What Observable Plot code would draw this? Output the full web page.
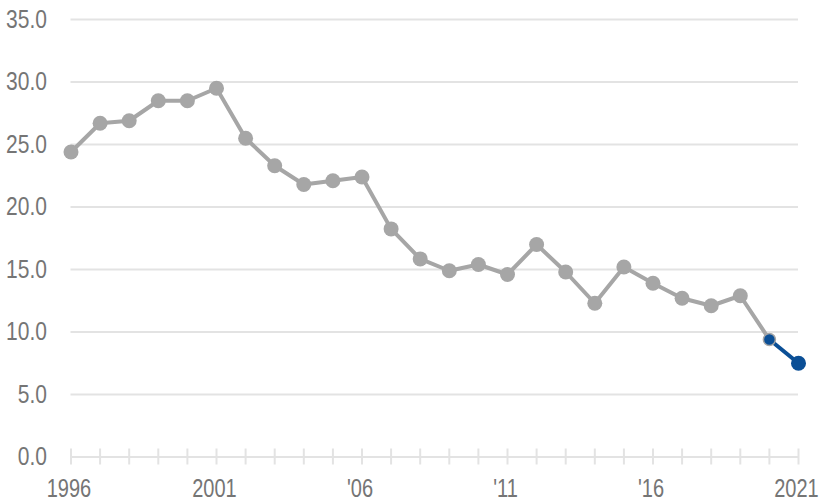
<!DOCTYPE html>
<html>
<head>
<meta charset="utf-8">
<script src="https://cdn.jsdelivr.net/npm/d3@7"></script>
<script src="https://cdn.jsdelivr.net/npm/@observablehq/plot@0.6"></script>
<style>
  html, body { margin: 0; padding: 0; background: #fff; }
  #chart svg { display: block; }
</style>
</head>
<body>
<div id="chart"></div>
<script>
const years = [1996,1997,1998,1999,2000,2001,2002,2003,2004,2005,2006,2007,2008,2009,2010,2011,2012,2013,2014,2015,2016,2017,2018,2019,2020,2021];
const values = [24.4,26.7,26.9,28.5,28.5,29.5,25.5,23.3,21.8,22.1,22.4,18.25,15.85,14.9,15.4,14.6,17.0,14.8,12.3,15.2,13.9,12.7,12.1,12.9,9.4,7.5];
const highlightStart = 2020;
const yTicks = [0,5,10,15,20,25,30,35];
const xLabelYears = [1996,2001,2006,2011,2016,2021];
const xLabelText = ["1996","2001","'06","'11","'16","2021"];

const data = years.map((y, i) => ({year: y, value: values[i]}));
const grayData = data.filter(d => d.year <= highlightStart);
const blueData = data.filter(d => d.year >= highlightStart);

const GRAY = "#a6a6a6";
const BLUE = "#0b4f96";
const GRID = "#e3e3e3";
const TEXT = "#757575";
const FONT = "'Liberation Sans', Arial, sans-serif";

const chart = Plot.plot({
  width: 819,
  height: 502,
  marginLeft: 70.5,
  marginRight: 21,
  marginTop: 19,
  marginBottom: 45.5,
  style: {fontFamily: FONT, fontSize: "25px", background: "#fff", overflow: "visible"},
  x: {domain: [1996, 2021]},
  y: {domain: [0, 35]},
  marks: [
    Plot.gridY(yTicks, {stroke: GRID, strokeOpacity: 1, strokeWidth: 2}),
    Plot.axisX(years, {tickSize: 16, dy: -8, stroke: GRID, strokeOpacity: 1, strokeWidth: 2, fill: "none", label: null}),
    Plot.axisX(xLabelYears, {tickSize: 0, tickPadding: 22, dx: -2, fill: TEXT, fillOpacity: 1, fontSize: 25, tickFormat: d => xLabelText[xLabelYears.indexOf(d)], label: null}),
    Plot.axisY(yTicks, {tickSize: 0, tickPadding: 24, fill: TEXT, fillOpacity: 1, fontSize: 25, tickFormat: d3.format(".1f"), label: null}),
    Plot.line(grayData, {x: "year", y: "value", stroke: GRAY, strokeWidth: 4}),
    Plot.dot(grayData.filter(d => d.year < highlightStart), {x: "year", y: "value", r: 7.5, fill: GRAY}),
    Plot.line(blueData, {x: "year", y: "value", stroke: BLUE, strokeWidth: 4}),
    Plot.dot(blueData.filter(d => d.year === highlightStart), {x: "year", y: "value", r: 6, fill: BLUE, stroke: GRAY, strokeWidth: 1.5}),
    Plot.dot(blueData.filter(d => d.year > highlightStart), {x: "year", y: "value", r: 7.5, fill: BLUE})
  ]
});
document.getElementById("chart").appendChild(chart);

// Condense the tick labels to mimic the narrow sans face of the reference
chart.querySelectorAll("text").forEach(t => {
  const len = t.getComputedTextLength();
  const isX = t.closest('[aria-label="x-axis tick label"]') !== null;
  if (len > 0) {
    t.setAttribute("textLength", (len * (isX ? 0.80 : 0.84)).toFixed(1));
    t.setAttribute("lengthAdjust", "spacingAndGlyphs");
  }
});
</script>
</body>
</html>
